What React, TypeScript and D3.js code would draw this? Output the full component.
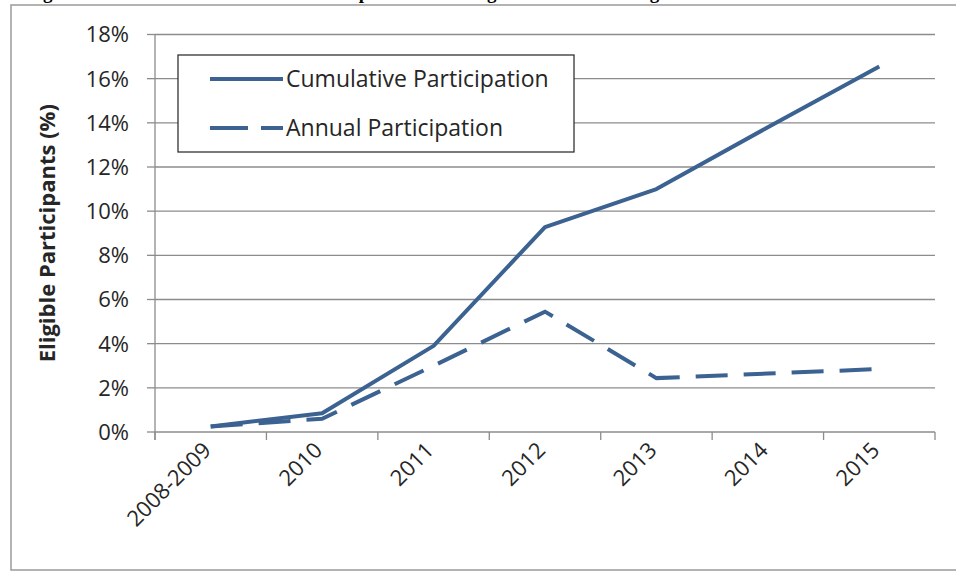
import React from "react";
import * as d3 from "d3";

// Program years and participation rates (% of eligible participants)
const years = ["2008-2009", "2010", "2011", "2012", "2013", "2014", "2015"];
const cumulative = [0.25, 0.85, 3.9, 9.28, 11.0, 13.8, 16.55];
const annual = [0.25, 0.6, 3.0, 5.45, 2.44, 2.65, 2.85];
const yTicks = [0, 2, 4, 6, 8, 10, 12, 14, 16, 18];
const seriesNames = ["Cumulative Participation", "Annual Participation"];
const titleText = "Figure 4: Annual and Cumulative Participation of All Eligibles in Rebate Program";

const W = 956;
const H = 575;
const FONT = "'Open Sans', Lato, sans-serif";
const LINE = "#3b6291";
const GRID = "#8c8c8c";
const TXT = "#262626";

export default function App() {
  const x = d3.scaleBand<string>().domain(years).range([155, 935]).padding(0);
  const y = d3.scaleLinear().domain([0, 18]).range([432, 34.5]);
  const cx = (c: string) => (x(c) as number) + x.bandwidth() / 2;

  const line = d3
    .line<number>()
    .x((_, i) => cx(years[i]))
    .y((d) => y(d));

  const boundaries = years.map((c) => x(c) as number).concat([935]);

  return (
    <svg
      width={W}
      height={H}
      style={{ position: "absolute", left: 0, top: 0, background: "#fff" }}
    >
      {/* figure caption, running off the top edge */}
      <text
        x={26}
        y={-1.5}
        fontFamily="'Liberation Serif', 'Times New Roman', serif"
        fontWeight="bold"
        fontSize={19}
        fill="#000"
      >
        {titleText}
      </text>

      {/* chart frame */}
      <rect x={11} y={5} width={980} height={565} fill="#fff" stroke="#9a9a9a" strokeWidth={1.5} />

      {/* horizontal gridlines and y ticks */}
      {yTicks.map((t) => (
        <g key={t}>
          <line x1={155} x2={935} y1={y(t)} y2={y(t)} stroke={GRID} strokeWidth={1.3} />
          <line x1={147} x2={155} y1={y(t)} y2={y(t)} stroke={GRID} strokeWidth={1.3} />
          <text
            x={129}
            y={y(t)}
            dy="0.36em"
            textAnchor="end"
            fontFamily={FONT}
            fontSize={22}
            fill={TXT}
          >
            {t}%
          </text>
        </g>
      ))}

      {/* y axis line */}
      <line x1={155} x2={155} y1={y(18)} y2={y(0) + 8} stroke={GRID} strokeWidth={1.3} />

      {/* x tick marks at category boundaries */}
      {boundaries.map((b, i) => (
        <line key={i} x1={b} x2={b} y1={y(0)} y2={y(0) + 8} stroke={GRID} strokeWidth={1.3} />
      ))}

      {/* x category labels, rotated */}
      {years.map((c) => (
        <text
          key={c}
          transform={`translate(${cx(c) - 4},${y(0) + 14}) rotate(-45)`}
          textAnchor="end"
          dy="0.36em"
          fontFamily={FONT}
          fontSize={22}
          fill={TXT}
        >
          {c}
        </text>
      ))}

      {/* y axis title */}
      <text
        transform={`translate(47,${(y(0) + y(18)) / 2}) rotate(-90)`}
        textAnchor="middle"
        dy="0.36em"
        fontFamily={FONT}
        fontWeight="bold"
        fontSize={22}
        fill={TXT}
      >
        Eligible Participants (%)
      </text>

      {/* series */}
      <path d={line(annual) || ""} fill="none" stroke={LINE} strokeWidth={4} strokeDasharray="32 16" />
      <path d={line(cumulative) || ""} fill="none" stroke={LINE} strokeWidth={4} strokeLinejoin="round" />

      {/* legend */}
      <rect x={178} y={55} width={396} height={97} fill="#fff" stroke="#333" strokeWidth={1.3} />
      <line x1={210} x2={283} y1={79} y2={79} stroke={LINE} strokeWidth={4} />
      <text x={286} y={79} dy="0.36em" fontFamily={FONT} fontSize={23} fill={TXT}>
        {seriesNames[0]}
      </text>
      <line x1={210} x2={283} y1={128} y2={128} stroke={LINE} strokeWidth={4} strokeDasharray="38 13" />
      <text x={286} y={128} dy="0.36em" fontFamily={FONT} fontSize={23} fill={TXT}>
        {seriesNames[1]}
      </text>
    </svg>
  );
}
